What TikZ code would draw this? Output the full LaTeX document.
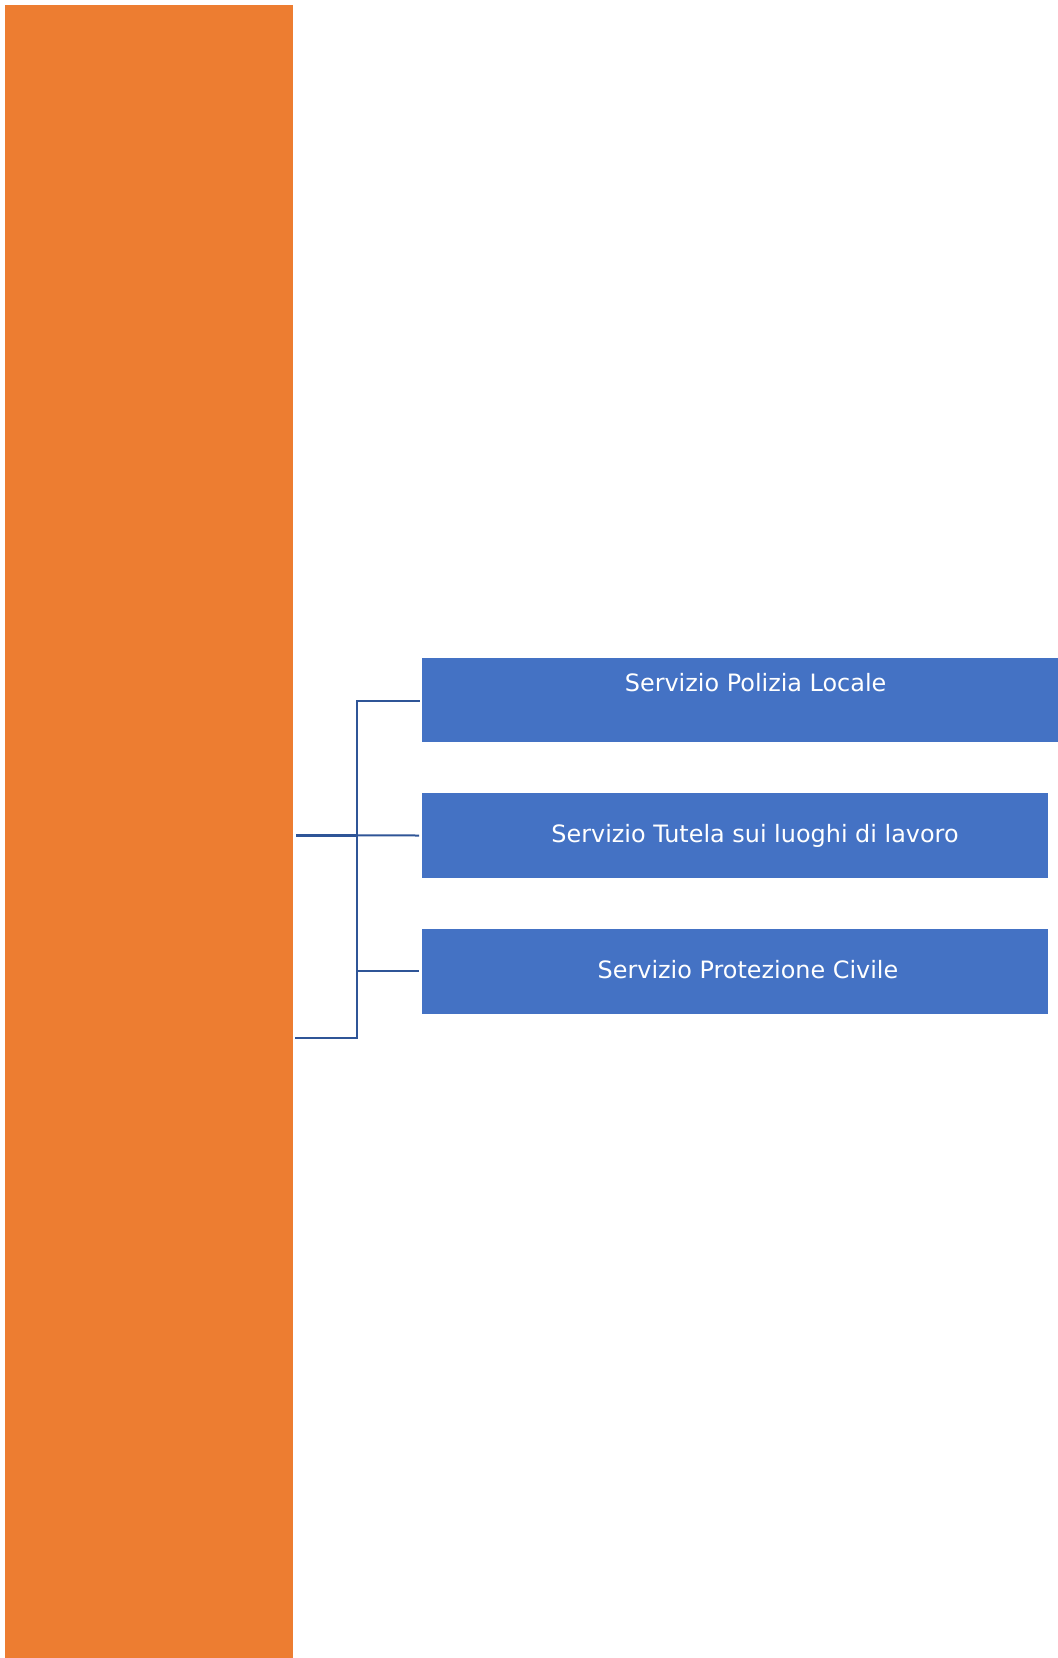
\documentclass[tikz,border=0pt]{standalone}
\usepackage{fontspec}
\setmainfont{DejaVu Sans}
\definecolor{orangebar}{HTML}{ED7D31}
\definecolor{boxblue}{HTML}{4472C4}
\definecolor{linkblue}{HTML}{2F5597}
\begin{document}
\begin{tikzpicture}[x=1pt,y=-1pt,
  bar/.style={fill=orangebar,draw=none,inner sep=0pt,anchor=north west},
  servbox/.style={fill=boxblue,draw=none,inner sep=0pt,anchor=north west},
  servtext/.style={text=white,anchor=base,inner sep=0pt,font=\fontsize{23.9}{28}\selectfont},
  link/.style={draw=linkblue,line width=2pt}]
\useasboundingbox (0,0) rectangle (1058,1658);
\node[bar,minimum width=288.5pt,minimum height=1660pt] (left) at (4.5,5) {};
\node[servbox,minimum width=640pt,minimum height=84.7pt] (b1) at (421.6,657.3) {};
\node[servbox,minimum width=626.4pt,minimum height=85.4pt] (b2) at (421.6,792.6) {};
\node[servbox,minimum width=626.4pt,minimum height=85pt] (b3) at (421.6,928.3) {};
\node[servtext] (t1) at (755.6,691.7) {Servizio Polizia Locale};
\node[servtext] (t2) at (755,842.3) {Servizio Tutela sui luoghi di lavoro};
\node[servtext] (t3) at (748,978.3) {Servizio Protezione Civile};
\coordinate (s1) at (296,835.3);
\coordinate (s2) at (296,1038.3);
\coordinate (jt) at (357,700.7);
\coordinate (jb) at (357,1038.3);
\draw[link,line width=2.4pt] (s1) -- (jt |- s1);
\draw[link] (jt |- s1) -- ([xshift=-2.5pt]b2.west);
\draw[link,line cap=rect] (b1.west |- jt) ++(-2.5,0) -- (jt) -- (jb) -- (s2);
\draw[link] (jt |- b3.west) -- ([xshift=-2.5pt]b3.west);
\end{tikzpicture}
\end{document}
